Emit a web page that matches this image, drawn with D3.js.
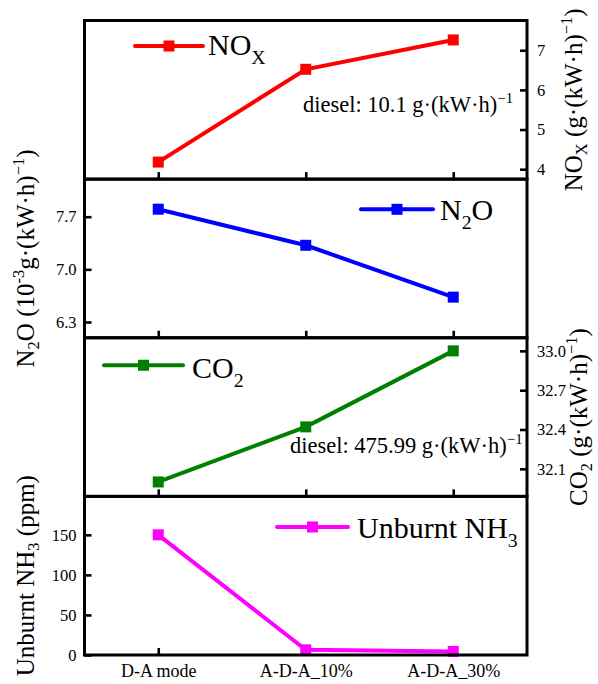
<!DOCTYPE html>
<html>
<head>
<meta charset="utf-8">
<script src="https://cdn.jsdelivr.net/npm/d3@7"></script>
<style>
  html, body { margin: 0; padding: 0; background: #fff; }
  svg { display: block; }
  svg text { font-family: "Liberation Serif", "Times New Roman", serif; }
</style>
</head>
<body>
<svg id="chart" width="598" height="684"></svg>
<script>
// Operating modes on the shared x axis
const categories = ["D-A mode", "A-D-A_10%", "A-D-A_30%"];

// Emission values per mode
const noxValues = [4.18, 6.52, 7.26];   // g·(kW·h)^-1
const n2oValues = [7.80, 7.32, 6.63];   // 10^-3 g·(kW·h)^-1
const co2Values = [32.0, 32.42, 33.0];  // g·(kW·h)^-1
const nh3Values = [150, 6.5, 4.5];      // ppm

// Tick values and axis domains
const noxTicks = [4, 5, 6, 7];
const n2oTicks = [6.3, 7.0, 7.7];
const co2Ticks = [32.1, 32.4, 32.7, 33.0];
const nh3Ticks = [0, 50, 100, 150];
const noxDomain = [3.75, 7.75];
const n2oDomain = [6.09, 8.2];
const co2Domain = [31.89, 33.1];
const nh3Domain = [0, 198];

// Reference diesel values shown as notes
const noxDieselNote = "10.1";
const co2DieselNote = "475.99";

const FONT = "'Liberation Serif', 'Times New Roman', serif";
const svg = d3.select("#chart");
const plotLeft = 84.5, plotRight = 527, plotTop = 20.5, plotBottom = 655;
const panelH = (plotBottom - plotTop) / 4;

const x = d3.scalePoint().domain(categories).range([plotLeft, plotRight]).padding(0.5);

// Text made of plain, subscript and superscript runs
function richText(sel, parts, size, subShift = 0.3) {
  let shift = 0;
  parts.forEach(p => {
    const ts = sel.append("tspan").text(p.t);
    let target = 0, fs = size;
    if (p.sub) { target = subShift * size; fs = 0.66 * size; }
    if (p.sup) { target = -0.42 * size; fs = 0.66 * size; }
    ts.attr("dy", target - shift).attr("font-size", fs);
    shift = target;
  });
  return sel;
}

const panels = [
  { values: noxValues, ticks: noxTicks, domain: noxDomain, color: "#ff0000", side: "right",
    fmt: d3.format("d"),
    title: [{t: "NO"}, {t: "X", sub: true}, {t: " (g·(kW·h)"}, {t: "−1", sup: true}, {t: ")"}],
    titleX: 582,
    legend: [{t: "NO"}, {t: "X", sub: true}],
    leg: { x1: 135, x2: 203, y: 25.5, tx: 208, ty: 34.5 },
    note: { x: 303, y: 91.5, parts: [{t: "diesel: " + noxDieselNote + " g·(kW·h)"}, {t: "−1", sup: true}] } },
  { values: n2oValues, ticks: n2oTicks, domain: n2oDomain, color: "#0000ff", side: "left",
    fmt: d3.format(".1f"),
    title: [{t: "N"}, {t: "2", sub: true}, {t: "O (10"}, {t: "-3", sup: true}, {t: "g·(kW·h)"}, {t: "−1", sup: true}, {t: ")"}],
    titleX: 34,
    legend: [{t: "N"}, {t: "2", sub: true}, {t: "O"}],
    leg: { x1: 361, x2: 433, y: 30.2, tx: 440, ty: 41 } },
  { values: co2Values, ticks: co2Ticks, domain: co2Domain, color: "#008000", side: "right",
    fmt: d3.format(".1f"),
    title: [{t: "CO"}, {t: "2", sub: true}, {t: " (g·(kW·h)"}, {t: "−1", sup: true}, {t: ")"}],
    titleX: 587,
    legend: [{t: "CO"}, {t: "2", sub: true}],
    leg: { x1: 104, x2: 183, y: 27.5, tx: 192, ty: 40.5 },
    note: { x: 290, y: 115.2, parts: [{t: "diesel: " + co2DieselNote + " g·(kW·h)"}, {t: "−1", sup: true}] } },
  { values: nh3Values, ticks: nh3Ticks, domain: nh3Domain, color: "#ff00ff", side: "left",
    fmt: d3.format("d"),
    title: [{t: "Unburnt NH"}, {t: "3", sub: true}, {t: " (ppm)"}],
    titleX: 34,
    legend: [{t: "Unburnt NH"}, {t: "3", sub: true}],
    leg: { x1: 277, x2: 348, y: 30.6, tx: 357, ty: 41.3 } }
];

panels.forEach((p, i) => {
  const pTop = plotTop + i * panelH, pBot = pTop + panelH;
  const y = d3.scaleLinear().domain(p.domain).range([pBot, pTop]);
  const g = svg.append("g");

  // x ticks along the panel bottom, pointing inward
  const xAxis = d3.axisBottom(x).tickSizeInner(-7).tickSizeOuter(0).tickPadding(9);
  const xg = g.append("g").attr("transform", `translate(0,${pBot})`).call(xAxis)
    .attr("font-family", FONT);
  xg.select(".domain").remove();
  xg.selectAll("line").attr("stroke", "#000").attr("stroke-width", 2.6);
  if (i === panels.length - 1) {
    xg.selectAll("text").attr("font-size", 18).attr("font-family", FONT).attr("fill", "#000");
  } else {
    xg.selectAll("text").remove();
  }

  // y axis on its own side, ticks inward
  const yAxis = (p.side === "left" ? d3.axisLeft(y) : d3.axisRight(y))
    .tickValues(p.ticks).tickFormat(p.fmt).tickSizeInner(-7).tickSizeOuter(0)
    .tickPadding(p.side === "left" ? 8 : 10);
  const yg = g.append("g")
    .attr("transform", `translate(${p.side === "left" ? plotLeft : plotRight},0)`).call(yAxis)
    .attr("font-family", FONT);
  yg.select(".domain").remove();
  yg.selectAll("line").attr("stroke", "#000").attr("stroke-width", 2.6);
  yg.selectAll("text").attr("font-size", 16.5).attr("font-family", FONT).attr("fill", "#000");

  // axis title
  const cy = (pTop + pBot) / 2;
  const t = g.append("text")
    .attr("transform", `translate(${p.titleX},${cy}) rotate(-90)`)
    .attr("text-anchor", "middle").attr("font-family", FONT).attr("font-size", 25).attr("fill", "#000");
  richText(t, p.title, 25, 0.2);

  // series line and square markers
  const line = d3.line().x((d, k) => x(categories[k])).y(d => y(d));
  g.append("path").datum(p.values).attr("d", line)
    .attr("fill", "none").attr("stroke", p.color).attr("stroke-width", 4);
  g.selectAll("rect.mk").data(p.values).join("rect").attr("class", "mk")
    .attr("x", (d, k) => x(categories[k]) - 5.5).attr("y", d => y(d) - 5.5)
    .attr("width", 11).attr("height", 11).attr("fill", p.color);

  // legend entry
  const L = p.leg;
  g.append("line").attr("x1", L.x1).attr("x2", L.x2).attr("y1", pTop + L.y).attr("y2", pTop + L.y)
    .attr("stroke", p.color).attr("stroke-width", 4).attr("stroke-linecap", "round");
  g.append("rect").attr("x", (L.x1 + L.x2) / 2 - 5.5).attr("y", pTop + L.y - 5.5)
    .attr("width", 11).attr("height", 11).attr("fill", p.color);
  const lt = g.append("text").attr("x", L.tx).attr("y", pTop + L.ty)
    .attr("font-family", FONT).attr("font-size", 30).attr("fill", "#000");
  richText(lt, p.legend, 30);

  // diesel reference note
  if (p.note) {
    const nt = g.append("text").attr("x", p.note.x).attr("y", pTop + p.note.y)
      .attr("font-family", FONT).attr("font-size", 22.5).attr("fill", "#000");
    richText(nt, p.note.parts, 22.5);
  }

  // panel frame
  g.append("rect").attr("x", plotLeft).attr("y", pTop).attr("width", plotRight - plotLeft).attr("height", panelH)
    .attr("fill", "none").attr("stroke", "#000").attr("stroke-width", 3);
});
</script>
</body>
</html>
